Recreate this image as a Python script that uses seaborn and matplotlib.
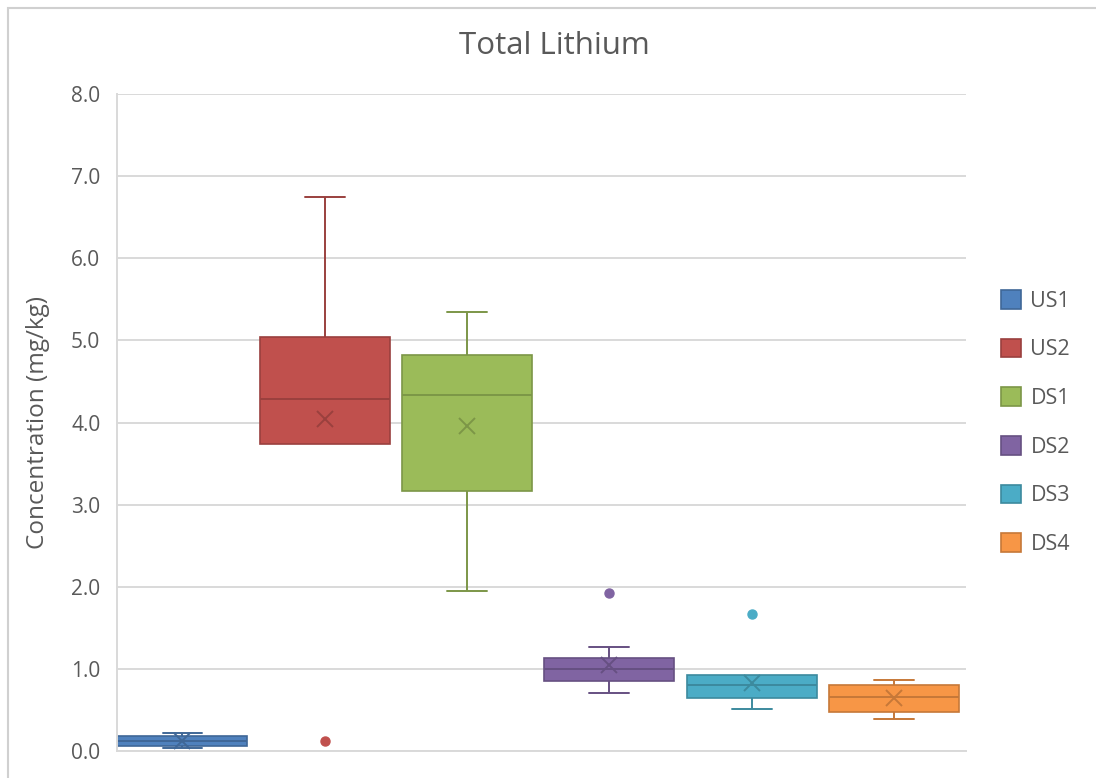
import matplotlib
matplotlib.use("Agg")
import matplotlib.pyplot as plt
from matplotlib.patches import Patch, Rectangle
import matplotlib.colors as mcolors
import numpy as np
import seaborn as sns

# ---- data (raw samples read/estimated from the reference box statistics) ----
categories = ["US1", "US2", "DS1", "DS2", "DS3", "DS4"]
us1 = [0.04, 0.05, 0.065, 0.10, 0.125, 0.15, 0.186, 0.20, 0.22]
us2 = [0.12, 3.74, 3.74, 4.84, 5.11, 6.74]
ds1 = [1.95, 2.60, 3.16, 3.90, 4.33, 4.60, 4.82, 4.93, 5.35]
ds2 = [0.71, 0.72, 0.85, 0.85, 1.00, 1.00, 1.13, 1.27, 1.92]
ds3 = [0.515, 0.53, 0.65, 0.66, 0.80, 0.80, 0.925, 0.925, 1.665]
ds4 = [0.39, 0.45, 0.48, 0.60, 0.66, 0.72, 0.80, 0.80, 0.86]
series = [us1, us2, ds1, ds2, ds3, ds4]
yticks = [0, 1, 2, 3, 4, 5, 6, 7, 8]

title = "Total Lithium"
ylabel = "Concentration (mg/kg)"

fills = ["#4F81BD", "#C0504D", "#9BBB59", "#8064A2", "#4BACC6", "#F79646"]

def darker(c, f=0.8):
    r, g, b = mcolors.to_rgb(c)
    return (r * f, g * f, b * f)

sns.set_theme(style="white")
plt.rcParams["font.family"] = ["Open Sans", "DejaVu Sans"]
text_color = "#595959"
grid_color = "#d9d9d9"

fig = plt.figure(figsize=(10.96, 7.78), dpi=100)
ax = fig.add_axes([117 / 1096, 1 - 751 / 778, (966 - 117) / 1096, (751 - 94) / 778])

for cat, vals, fc in zip(categories, series, fills):
    ec = darker(fc)
    n_before = len(ax.lines)
    sns.boxplot(
        x=[cat] * len(vals), y=vals, order=categories, ax=ax,
        color=fc, saturation=1, linecolor=ec, linewidth=1.2,
        width=0.913, whis=1.5, capwidths=0.28,
        showmeans=True,
        meanprops=dict(marker="x", markeredgecolor=ec, markerfacecolor=ec,
                       markersize=12, markeredgewidth=1.4),
        medianprops=dict(color=ec, linewidth=1.4),
        whiskerprops=dict(color=ec, linewidth=1.4),
        capprops=dict(color=ec, linewidth=1.4),
        flierprops=dict(marker="o", markerfacecolor=fc, markeredgecolor=fc,
                        markersize=6.5),
    )
    new = ax.lines[n_before:]
    # bxp order: 2 whiskers, 2 caps, median, fliers, mean
    whiskers, caps = new[0:2], new[2:4]
    for w, c in zip(whiskers, caps):
        yd = w.get_ydata()
        if np.isclose(yd[0], yd[1]):
            c.set_visible(False)
            w.set_visible(False)

ax.set_xlim(-0.46, 5.506)
ax.set_ylim(0, 8)
ax.set_yticks(yticks)
ax.set_yticklabels([f"{v:.1f}" for v in yticks])
ax.set_xticks([])
ax.set_xlabel("")
ax.yaxis.grid(True, color=grid_color, linewidth=1.4)
ax.set_axisbelow(True)
for s in ["top", "right"]:
    ax.spines[s].set_visible(False)
for s in ["left", "bottom"]:
    ax.spines[s].set_visible(True)
    ax.spines[s].set_color(grid_color)
    ax.spines[s].set_linewidth(1.4)
ax.tick_params(axis="y", length=0, pad=12, labelsize=15, labelcolor=text_color)
ax.set_ylabel(ylabel, fontsize=17.5, color=text_color)
ax.yaxis.set_label_coords((50 - 117) / 849, 0.5)

fig.text(554 / 1096, 1 - 46 / 778, title, ha="center", va="center",
         fontsize=22.5, color=text_color)

handles = [Patch(facecolor=f, edgecolor=darker(f), linewidth=1.2) for f in fills]
fig.legend(handles, categories, loc="center left",
           bbox_to_anchor=(1001 / 1096, 1 - 422.5 / 778),
           frameon=False, fontsize=15.5, labelcolor=text_color,
           handlelength=0.95, handleheight=0.95, handletextpad=0.42,
           labelspacing=1.25, borderpad=0, borderaxespad=0)

# outer chart frame
fig.add_artist(Rectangle((8 / 1096, -0.1), 1.2, 1.1 - 8 / 778,
                         transform=fig.transFigure, fill=False,
                         edgecolor="#d0d0d0", linewidth=1.5))

fig.savefig("out.png", dpi=100)
